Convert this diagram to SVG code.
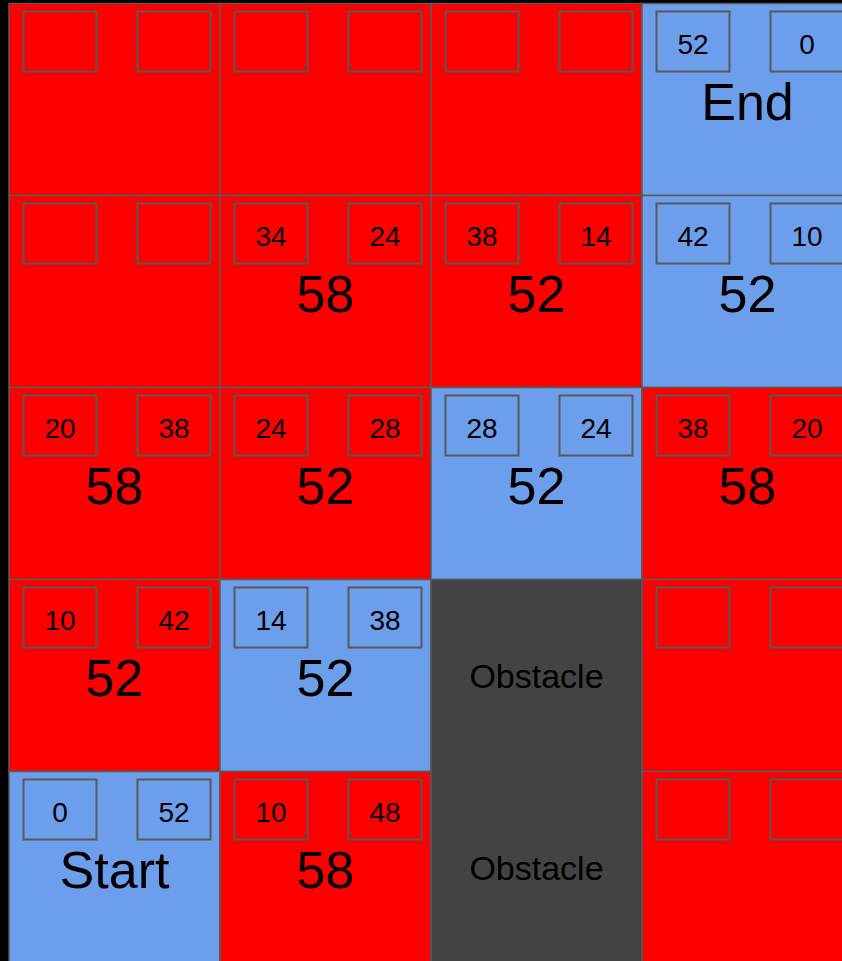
<svg xmlns="http://www.w3.org/2000/svg" width="842" height="961" viewBox="0 0 842 961">
<style>
.cell{stroke:#595959;stroke-width:1.5}
.r{fill:#ff0000}
.b{fill:#6d9eeb}
.obs{fill:#434343;stroke:#595959;stroke-width:1.5}
.box{fill:none;stroke:#595959;stroke-width:2}
text{font-family:"Liberation Sans",Arial,sans-serif;fill:#000;text-anchor:middle}
.s{font-size:28px}
.l{font-size:52px}
.o{font-size:34px}
</style>
<rect x="0" y="0" width="842" height="961" fill="#000"/>
<g id="cells">
<!-- row 0 -->
<g id="c0-0"><rect class="cell r" x="9" y="3.5" width="211" height="192"/><rect class="box" x="23.5" y="11.5" width="73" height="60"/><rect class="box" x="137.5" y="11.5" width="73" height="60"/></g>
<g id="c0-1"><rect class="cell r" x="220" y="3.5" width="211" height="192"/><rect class="box" x="234.5" y="11.5" width="73" height="60"/><rect class="box" x="348.5" y="11.5" width="73" height="60"/></g>
<g id="c0-2"><rect class="cell r" x="431" y="3.5" width="211" height="192"/><rect class="box" x="445.5" y="11.5" width="73" height="60"/><rect class="box" x="559.5" y="11.5" width="73" height="60"/></g>
<g id="c0-3"><rect class="cell b" x="642" y="3.5" width="211" height="192"/><rect class="box" x="656.5" y="11.5" width="73" height="60"/><rect class="box" x="770.5" y="11.5" width="73" height="60"/><text class="s" x="693" y="53.5">52</text><text class="s" x="807" y="53.5">0</text><text class="l" x="747.5" y="119.5">End</text></g>
<!-- row 1 -->
<g id="c1-0"><rect class="cell r" x="9" y="195.5" width="211" height="192"/><rect class="box" x="23.5" y="203.5" width="73" height="60"/><rect class="box" x="137.5" y="203.5" width="73" height="60"/></g>
<g id="c1-1"><rect class="cell r" x="220" y="195.5" width="211" height="192"/><rect class="box" x="234.5" y="203.5" width="73" height="60"/><rect class="box" x="348.5" y="203.5" width="73" height="60"/><text class="s" x="271" y="245.5">34</text><text class="s" x="385" y="245.5">24</text><text class="l" x="325.5" y="311.5">58</text></g>
<g id="c1-2"><rect class="cell r" x="431" y="195.5" width="211" height="192"/><rect class="box" x="445.5" y="203.5" width="73" height="60"/><rect class="box" x="559.5" y="203.5" width="73" height="60"/><text class="s" x="482" y="245.5">38</text><text class="s" x="596" y="245.5">14</text><text class="l" x="536.5" y="311.5">52</text></g>
<g id="c1-3"><rect class="cell b" x="642" y="195.5" width="211" height="192"/><rect class="box" x="656.5" y="203.5" width="73" height="60"/><rect class="box" x="770.5" y="203.5" width="73" height="60"/><text class="s" x="693" y="245.5">42</text><text class="s" x="807" y="245.5">10</text><text class="l" x="747.5" y="311.5">52</text></g>
<!-- row 2 -->
<g id="c2-0"><rect class="cell r" x="9" y="387.5" width="211" height="192"/><rect class="box" x="23.5" y="395.5" width="73" height="60"/><rect class="box" x="137.5" y="395.5" width="73" height="60"/><text class="s" x="60" y="437.5">20</text><text class="s" x="174" y="437.5">38</text><text class="l" x="114.5" y="503.5">58</text></g>
<g id="c2-1"><rect class="cell r" x="220" y="387.5" width="211" height="192"/><rect class="box" x="234.5" y="395.5" width="73" height="60"/><rect class="box" x="348.5" y="395.5" width="73" height="60"/><text class="s" x="271" y="437.5">24</text><text class="s" x="385" y="437.5">28</text><text class="l" x="325.5" y="503.5">52</text></g>
<g id="c2-2"><rect class="cell b" x="431" y="387.5" width="211" height="192"/><rect class="box" x="445.5" y="395.5" width="73" height="60"/><rect class="box" x="559.5" y="395.5" width="73" height="60"/><text class="s" x="482" y="437.5">28</text><text class="s" x="596" y="437.5">24</text><text class="l" x="536.5" y="503.5">52</text></g>
<g id="c2-3"><rect class="cell r" x="642" y="387.5" width="211" height="192"/><rect class="box" x="656.5" y="395.5" width="73" height="60"/><rect class="box" x="770.5" y="395.5" width="73" height="60"/><text class="s" x="693" y="437.5">38</text><text class="s" x="807" y="437.5">20</text><text class="l" x="747.5" y="503.5">58</text></g>
<!-- row 3 -->
<g id="c3-0"><rect class="cell r" x="9" y="579.5" width="211" height="192"/><rect class="box" x="23.5" y="587.5" width="73" height="60"/><rect class="box" x="137.5" y="587.5" width="73" height="60"/><text class="s" x="60" y="629.5">10</text><text class="s" x="174" y="629.5">42</text><text class="l" x="114.5" y="695.5">52</text></g>
<g id="c3-1"><rect class="cell b" x="220" y="579.5" width="211" height="192"/><rect class="box" x="234.5" y="587.5" width="73" height="60"/><rect class="box" x="348.5" y="587.5" width="73" height="60"/><text class="s" x="271" y="629.5">14</text><text class="s" x="385" y="629.5">38</text><text class="l" x="325.5" y="695.5">52</text></g>
<g id="c3-3"><rect class="cell r" x="642" y="579.5" width="211" height="192"/><rect class="box" x="656.5" y="587.5" width="73" height="60"/><rect class="box" x="770.5" y="587.5" width="73" height="60"/></g>
<!-- row 4 -->
<g id="c4-0"><rect class="cell b" x="9" y="771.5" width="211" height="192"/><rect class="box" x="23.5" y="779.5" width="73" height="60"/><rect class="box" x="137.5" y="779.5" width="73" height="60"/><text class="s" x="60" y="821.5">0</text><text class="s" x="174" y="821.5">52</text><text class="l" x="114.5" y="887.5">Start</text></g>
<g id="c4-1"><rect class="cell r" x="220" y="771.5" width="211" height="192"/><rect class="box" x="234.5" y="779.5" width="73" height="60"/><rect class="box" x="348.5" y="779.5" width="73" height="60"/><text class="s" x="271" y="821.5">10</text><text class="s" x="385" y="821.5">48</text><text class="l" x="325.5" y="887.5">58</text></g>
<g id="c4-3"><rect class="cell r" x="642" y="771.5" width="211" height="192"/><rect class="box" x="656.5" y="779.5" width="73" height="60"/><rect class="box" x="770.5" y="779.5" width="73" height="60"/></g>
<!-- obstacles -->
<g id="obstacle"><rect class="obs" x="431" y="579.5" width="211" height="384"/><text class="o" x="536.5" y="688">Obstacle</text><text class="o" x="536.5" y="880">Obstacle</text></g>
</g>
<g id="connectors"/>
</svg>
